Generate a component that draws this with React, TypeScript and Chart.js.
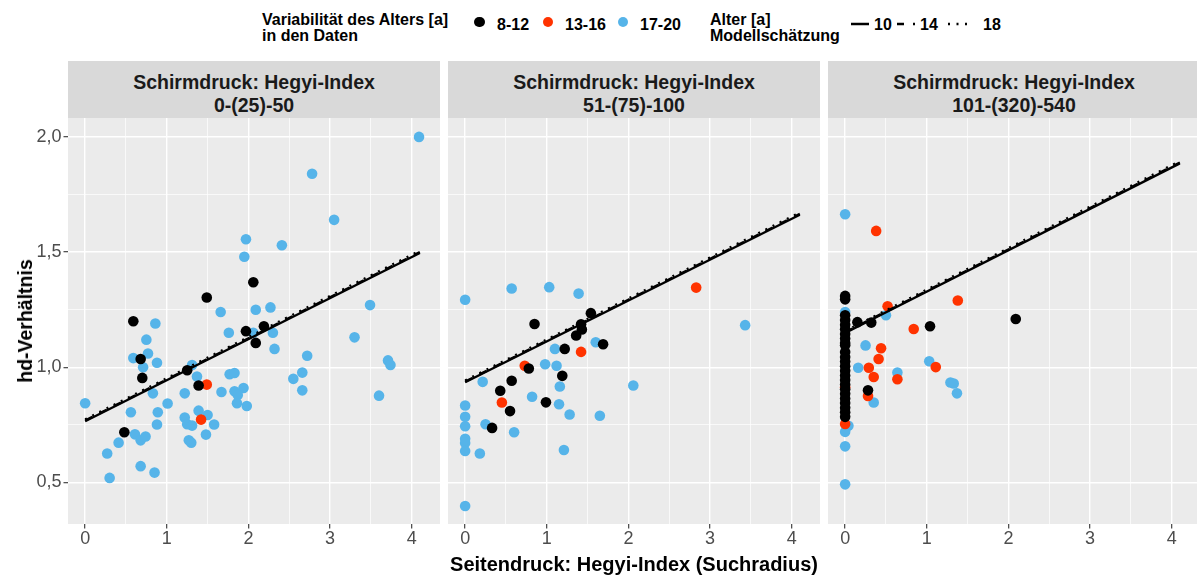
import React, { useEffect, useRef } from 'react';
import { Chart, registerables } from 'chart.js';

Chart.register(...registerables);

const FONT = '"Liberation Sans", Arial, Helvetica, sans-serif';
const COL_BLACK = '#000000';
const COL_RED = '#FF3300';
const COL_BLUE = '#56B4E9';

// ---- axis settings (values) ----
const X_MIN = -0.21;
const X_MAX = 4.347;
const Y_MIN = 0.32;
const Y_MAX = 2.082;
const yTickLabels: Record<string, string> = { '0.5': '0,5', '1': '1,0', '1.5': '1,5', '2': '2,0' };

// ---- legend / text ----
const legendTitleData = ['Variabilität des Alters [a]', 'in den Daten'];
const legendTitleModel = ['Alter [a]', 'Modellschätzung'];
const ageGroups = ['8-12', '13-16', '17-20'];
const modelAges = ['10', '14', '18'];
const stripTitles = ['0-(25)-50', '51-(75)-100', '101-(320)-540'];
const xTitle = 'Seitendruck: Hegyi-Index (Suchradius)';
const yTitle = 'hd-Verhältnis';

// ---- data: panel 1 (0-(25)-50) ----
const p1Blue: number[][] = [
  [4.09, 2.0], [2.78, 1.84], [3.05, 1.64], [1.97, 1.556], [1.95, 1.48], [2.41, 1.53], [1.66, 1.24],
  [2.09, 1.25], [2.27, 1.26], [0.86, 1.19], [0.75, 1.12], [1.76, 1.15], [2.06, 1.15], [2.3, 1.15],
  [2.32, 1.08], [3.49, 1.27], [3.3, 1.13], [0.77, 1.06], [0.59, 1.04], [0.71, 1.0], [0.88, 1.02],
  [1.31, 1.01], [1.37, 0.96], [2.72, 1.05], [3.71, 1.03], [3.74, 1.01], [1.77, 0.97], [1.83, 0.975],
  [2.66, 0.977], [2.55, 0.95], [2.66, 0.9], [3.6, 0.877], [0.83, 0.887], [1.22, 0.887], [1.67, 0.893],
  [1.83, 0.896], [1.94, 0.91], [1.87, 0.88], [1.86, 0.844], [1.98, 0.832], [0.0, 0.844], [1.01, 0.843],
  [0.56, 0.805], [0.89, 0.805], [0.88, 0.752], [1.22, 0.782], [1.25, 0.753], [1.31, 0.747], [1.39, 0.812],
  [1.5, 0.793], [1.58, 0.752], [1.48, 0.708], [1.27, 0.683], [1.3, 0.673], [0.61, 0.709], [0.68, 0.683],
  [0.74, 0.7], [0.41, 0.673], [0.27, 0.626], [0.68, 0.571], [0.85, 0.543], [0.3, 0.52],
];
const p1Red: number[][] = [[1.49, 0.925], [1.42, 0.773]];
const p1Black: number[][] = [
  [2.06, 1.369], [1.49, 1.303], [0.59, 1.2], [1.97, 1.157], [2.19, 1.178], [2.09, 1.106],
  [0.68, 1.036], [1.25, 0.987], [0.7, 0.954], [1.39, 0.921], [0.48, 0.718],
];

// ---- data: panel 2 (51-(75)-100) ----
const p2Blue: number[][] = [
  [0, 1.293], [0.57, 1.342], [1.03, 1.348], [1.39, 1.32], [3.43, 1.183], [1.6, 1.109], [1.1, 1.08],
  [0.98, 1.013], [1.12, 1.007], [0.215, 0.937], [1.16, 0.917], [2.06, 0.921], [0.82, 0.872], [1.15, 0.84],
  [1.28, 0.795], [1.65, 0.79], [0, 0.834], [0, 0.785], [0, 0.744], [0, 0.69], [0, 0.672], [0, 0.637],
  [0.25, 0.753], [0.6, 0.718], [0.18, 0.626], [1.21, 0.641], [0, 0.398],
];
const p2Red: number[][] = [[2.83, 1.346], [1.42, 1.067], [0.73, 1.007], [0.45, 0.847]];
const p2Black: number[][] = [
  [1.54, 1.235], [0.85, 1.188], [1.42, 1.187], [1.43, 1.164], [1.36, 1.138], [1.69, 1.1], [1.22, 1.08],
  [0.78, 0.995], [1.19, 0.963], [0.57, 0.942], [0.43, 0.898], [0.99, 0.848], [0.55, 0.81], [0.33, 0.737],
];

// ---- data: panel 3 (101-(320)-540) ----
const p3Blue: number[][] = [
  [0, 1.664], [0.5, 1.226], [0, 1.24], [0.25, 1.095], [0.16, 0.998], [0.64, 0.977], [1.03, 1.026],
  [1.29, 0.934], [1.33, 0.93], [1.37, 0.887], [0.35, 0.847], [0.04, 0.746], [0, 0.72], [0, 0.657], [0, 0.492],
];
const p3Red: number[][] = [
  [0.38, 1.592], [1.38, 1.29], [0.52, 1.265], [0.84, 1.166], [0.44, 1.083], [0.41, 1.036], [0.29, 0.998],
  [0.35, 0.958], [0.64, 0.948], [1.11, 1.001], [0.28, 0.876], [0, 0.754], [0, 0.913],
];
const p3Black: number[][] = [
  [0.15, 1.196], [0.32, 1.194], [1.04, 1.178], [2.09, 1.21], [0.28, 0.9],
  [0, 1.31], [0, 1.295], [0, 1.226], [0, 1.205], [0, 1.185], [0, 1.165], [0, 1.145], [0, 1.125], [0, 1.105],
  [0, 1.096], [0, 1.067], [0, 1.045], [0, 1.025], [0, 1.005], [0, 0.985], [0, 0.965], [0, 0.945], [0, 0.925],
  [0, 0.905], [0, 0.885], [0, 0.865], [0, 0.845], [0, 0.825], [0, 0.805], [0, 0.785],
];

// ---- model estimate lines (age 10, 14, 18) ----
const lineX = [0, 4.1];
const p1Line10 = [0.766, 1.496];
const p1Line14 = [0.769, 1.5];
const p1Line18 = [0.774, 1.506];
const p2Line10 = [0.935, 1.662];
const p2Line14 = [0.938, 1.666];
const p2Line18 = [0.943, 1.672];
const p3Line10 = [1.149, 1.885];
const p3Line14 = [1.152, 1.889];
const p3Line18 = [1.157, 1.895];

const isWhole = (v: number) => Math.abs(v - Math.round(v)) < 1e-6;
const isHalfMajor = (v: number) => Math.abs(v * 2 - Math.round(v * 2)) < 1e-6;

const bgPlugin = {
  id: 'panelBg',
  beforeDraw(chart: any) {
    const { ctx, chartArea: a } = chart;
    ctx.save();
    ctx.fillStyle = '#EBEBEB';
    ctx.fillRect(a.left, a.top, a.right - a.left, a.bottom - a.top);
    ctx.restore();
  },
};

const CANVAS_TOP = 118;
const CANVAS_H = 461;
const PLOT_H = 406;

type PanelProps = {
  left: number;
  width: number;
  showY: boolean;
  blue: number[][];
  red: number[][];
  black: number[][];
  l10: number[];
  l14: number[];
  l18: number[];
};

function Panel({ left, width, showY, blue, red, black, l10, l14, l18 }: PanelProps) {
  const ref = useRef<HTMLCanvasElement>(null);
  useEffect(() => {
    const toPts = (arr: number[][]) => arr.map(([x, y]) => ({ x, y }));
    const toLine = (ys: number[]) => lineX.map((x, i) => ({ x, y: ys[i] }));
    const lineDs = (ys: number[], dash: number[], order: number) => ({
      data: toLine(ys),
      showLine: true,
      pointRadius: 0,
      borderColor: '#000000',
      borderWidth: 2.4,
      borderDash: dash,
      fill: false,
      order,
    });
    const ptDs = (arr: number[][], color: string, order: number) => ({
      data: toPts(arr),
      backgroundColor: color,
      borderWidth: 0,
      pointRadius: 5.3,
      pointHoverRadius: 5.3,
      order,
    });
    const chart = new Chart(ref.current!, {
      type: 'scatter',
      data: {
        datasets: [
          lineDs(l10, [], 0),
          lineDs(l14, [8, 8], 1),
          lineDs(l18, [2, 6], 2),
          ptDs(black, COL_BLACK, 4),
          ptDs(red, COL_RED, 5),
          ptDs(blue, COL_BLUE, 6),
        ] as any,
      },
      options: {
        responsive: false,
        animation: false,
        events: [],
        layout: { padding: 0, autoPadding: false },
        plugins: { legend: { display: false }, tooltip: { enabled: false } },
        scales: {
          x: {
            type: 'linear',
            min: X_MIN,
            max: X_MAX,
            afterFit: (s: any) => {
              s.height = CANVAS_H - PLOT_H;
              s.paddingLeft = 0;
              s.paddingRight = 0;
            },
            border: { display: false },
            grid: {
              color: '#FFFFFF',
              lineWidth: (c: any) => (c.tick && isWhole(c.tick.value) ? 1.4 : 0.7),
              tickColor: (c: any) => (c.tick && isWhole(c.tick.value) ? '#333333' : 'rgba(0,0,0,0)'),
              tickLength: 4.5,
              tickWidth: 1.1,
            },
            ticks: {
              stepSize: 0.5,
              includeBounds: false,
              autoSkip: false,
              maxRotation: 0,
              padding: 0,
              color: '#4D4D4D',
              font: { family: FONT, size: 18 },
              callback: (v: any) => (isWhole(Number(v)) ? String(Math.round(Number(v))) : ''),
            },
          },
          y: {
            type: 'linear',
            min: Y_MIN,
            max: Y_MAX,
            afterFit: (s: any) => {
              s.width = showY ? 68 : 0;
              s.paddingTop = 0;
              s.paddingBottom = 0;
            },
            border: { display: false },
            grid: {
              color: '#FFFFFF',
              drawTicks: showY,
              lineWidth: (c: any) => (c.tick && isHalfMajor(c.tick.value) ? 1.4 : 0.7),
              tickColor: (c: any) => (c.tick && isHalfMajor(c.tick.value) ? '#333333' : 'rgba(0,0,0,0)'),
              tickLength: 4.5,
              tickWidth: 1.1,
            },
            ticks: {
              display: showY,
              stepSize: 0.25,
              includeBounds: false,
              autoSkip: false,
              padding: 2,
              color: '#4D4D4D',
              font: { family: FONT, size: 18 },
              callback: (v: any) => {
                const key = String(Math.round(Number(v) * 100) / 100);
                return yTickLabels[key] ?? '';
              },
            },
          },
        },
      } as any,
      plugins: [bgPlugin],
    });
    return () => chart.destroy();
  }, []);
  return (
    <canvas
      ref={ref}
      width={width}
      height={CANVAS_H}
      style={{ position: 'absolute', left, top: CANVAS_TOP, width, height: CANVAS_H }}
    />
  );
}

function Strip({ left, label }: { left: number; label: string }) {
  return (
    <div
      style={{
        position: 'absolute',
        left,
        top: 61,
        width: 372,
        height: 57,
        background: '#D9D9D9',
        color: '#1A1A1A',
        fontFamily: FONT,
        fontWeight: 'bold',
        fontSize: 19.5,
        lineHeight: '22.4px',
        textAlign: 'center',
        boxSizing: 'border-box',
        paddingTop: 10.3,
        whiteSpace: 'nowrap',
      }}
    >
      <div>Schirmdruck: Hegyi-Index</div>
      <div>{label}</div>
    </div>
  );
}

const txt = (left: number, top: number, s: string, extra: any = {}) => (
  <div
    style={{
      position: 'absolute',
      left,
      top,
      fontFamily: FONT,
      fontWeight: 'bold',
      fontSize: 16,
      lineHeight: '16px',
      color: '#000',
      whiteSpace: 'nowrap',
      ...extra,
    }}
  >
    {s}
  </div>
);

const dot = (cx: number, cy: number, color: string) => (
  <div
    style={{
      position: 'absolute',
      left: cx - 5.3,
      top: cy - 5.3,
      width: 10.6,
      height: 10.6,
      borderRadius: '50%',
      background: color,
    }}
  />
);

export default function App() {
  return (
    <div
      style={{
        position: 'fixed',
        left: 0,
        top: 0,
        width: 1197,
        height: 579,
        overflow: 'hidden',
        background: '#FFFFFF',
      }}
    >
      {/* Legend: data ages */}
      <div
        style={{
          position: 'absolute',
          left: 262,
          top: 12,
          fontFamily: FONT,
          fontWeight: 'bold',
          fontSize: 16,
          lineHeight: '15.5px',
          color: '#000',
          whiteSpace: 'nowrap',
        }}
      >
        <div>{legendTitleData[0]}</div>
        <div>{legendTitleData[1]}</div>
      </div>
      {dot(479.5, 22, COL_BLACK)}
      {txt(497, 17.2, ageGroups[0])}
      {dot(547.8, 22, COL_RED)}
      {txt(565, 17.2, ageGroups[1])}
      {dot(622.8, 22, COL_BLUE)}
      {txt(640, 17.2, ageGroups[2])}

      {/* Legend: model ages */}
      <div
        style={{
          position: 'absolute',
          left: 710,
          top: 12,
          fontFamily: FONT,
          fontWeight: 'bold',
          fontSize: 16,
          lineHeight: '15.5px',
          color: '#000',
          whiteSpace: 'nowrap',
        }}
      >
        <div>{legendTitleModel[0]}</div>
        <div>{legendTitleModel[1]}</div>
      </div>
      <svg style={{ position: 'absolute', left: 0, top: 0 }} width={1197} height={50}>
        <line x1={851} y1={24} x2={869} y2={24} stroke="#000" strokeWidth={2.5} />
        <line x1={897} y1={24} x2={915} y2={24} stroke="#000" strokeWidth={2.5} strokeDasharray="7 9" />
        <line x1={948} y1={24} x2={969} y2={24} stroke="#000" strokeWidth={2.5} strokeDasharray="2 6.5" />
      </svg>
      {txt(874, 17.2, modelAges[0])}
      {txt(920, 17.2, modelAges[1])}
      {txt(983, 17.2, modelAges[2])}

      {/* Strips */}
      <Strip left={68} label={stripTitles[0]} />
      <Strip left={448} label={stripTitles[1]} />
      <Strip left={828} label={stripTitles[2]} />

      {/* Panels */}
      <Panel left={0} width={440} showY={true} blue={p1Blue} red={p1Red} black={p1Black} l10={p1Line10} l14={p1Line14} l18={p1Line18} />
      <Panel left={448} width={372} showY={false} blue={p2Blue} red={p2Red} black={p2Black} l10={p2Line10} l14={p2Line14} l18={p2Line18} />
      <Panel left={828} width={372} showY={false} blue={p3Blue} red={p3Red} black={p3Black} l10={p3Line10} l14={p3Line14} l18={p3Line18} />

      {/* Axis titles */}
      <div
        style={{
          position: 'absolute',
          left: 25,
          top: 321,
          transform: 'translate(-50%, -50%) rotate(-90deg)',
          fontFamily: FONT,
          fontWeight: 'bold',
          fontSize: 19.5,
          lineHeight: '20px',
          color: '#000',
          whiteSpace: 'nowrap',
        }}
      >
        {yTitle}
      </div>
      <div
        style={{
          position: 'absolute',
          left: 634,
          top: 554.4,
          transform: 'translateX(-50%)',
          fontFamily: FONT,
          fontWeight: 'bold',
          fontSize: 20,
          lineHeight: '20px',
          color: '#000',
          whiteSpace: 'nowrap',
        }}
      >
        {xTitle}
      </div>
    </div>
  );
}
